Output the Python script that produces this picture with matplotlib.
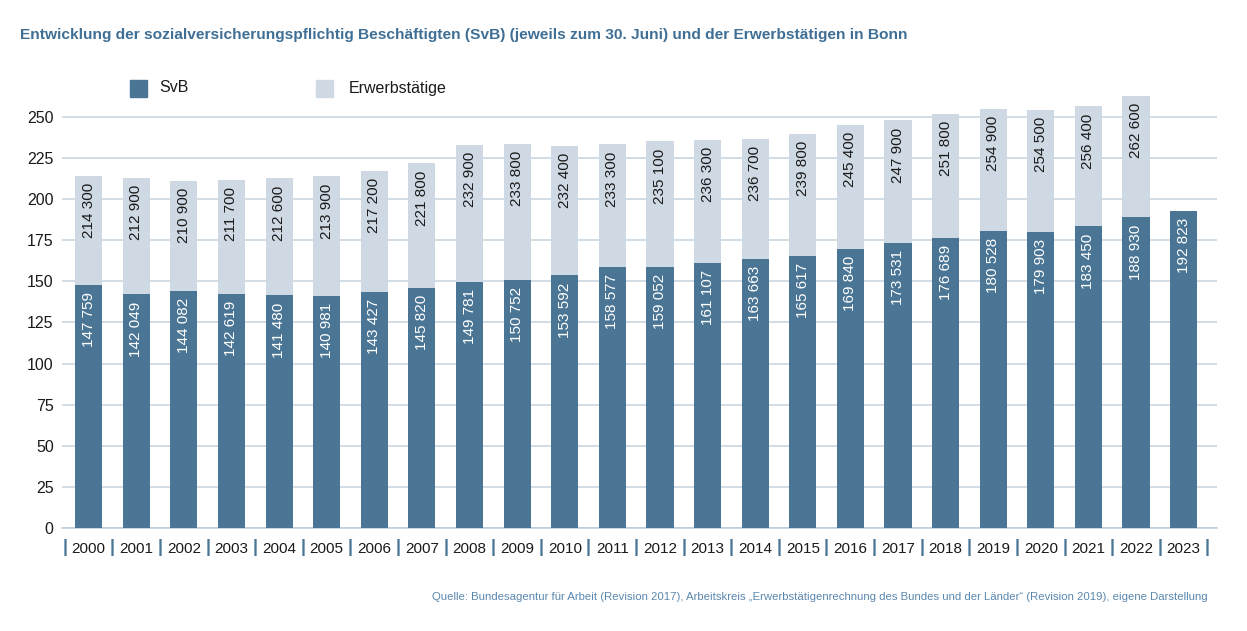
import matplotlib
matplotlib.use("Agg")
import matplotlib.pyplot as plt
from matplotlib.patches import Rectangle

years = [str(y) for y in range(2000, 2024)]
svb = [147759, 142049, 144082, 142619, 141480, 140981, 143427, 145820, 149781,
       150752, 153592, 158577, 159052, 161107, 163663, 165617, 169840, 173531,
       176689, 180528, 179903, 183450, 188930, 192823]
erwerb = [214300, 212900, 210900, 211700, 212600, 213900, 217200, 221800, 232900,
          233800, 232400, 233300, 235100, 236300, 236700, 239800, 245400, 247900,
          251800, 254900, 254500, 256400, 262600, None]
yticks = list(range(0, 251, 25))

title = ("Entwicklung der sozialversicherungspflichtig Beschäftigten (SvB) "
         "(jeweils zum 30. Juni) und der Erwerbstätigen in Bonn")
source = ("Quelle: Bundesagentur für Arbeit (Revision 2017), Arbeitskreis "
          "„Erwerbstätigenrechnung des Bundes und der Länder“ (Revision 2019), "
          "eigene Darstellung")

DARK = "#4a7594"
LIGHT = "#cfd9e4"
GRID = "#c5d3df"
TITLE_C = "#3f6f95"
SRC_C = "#5a87ae"

plt.rcParams["font.family"] = ["Liberation Sans", "DejaVu Sans"]

fig = plt.figure(figsize=(12.47, 6.31), dpi=100)
ax = fig.add_axes([62 / 1247, 1 - 528 / 631, (1217 - 62) / 1247, (528 - 92) / 631])

x = list(range(len(years)))
w = 0.57
ax.set_xlim(-0.56, 23.7)
ax.set_ylim(0, 265.2)

for i in x:
    if erwerb[i] is not None:
        ax.bar(i, erwerb[i] / 1000, width=w, color=LIGHT, zorder=2)
        ax.annotate(f"{erwerb[i]:,}".replace(",", " "), (i, erwerb[i] / 1000),
                    xytext=(0, -5), textcoords="offset points", rotation=90,
                    ha="center", va="top", fontsize=11, color="#1a1a1a", zorder=4)
    ax.bar(i, svb[i] / 1000, width=w, color=DARK, zorder=3)
    ax.annotate(f"{svb[i]:,}".replace(",", " "), (i, svb[i] / 1000),
                xytext=(0, -5), textcoords="offset points", rotation=90,
                ha="center", va="top", fontsize=11, color="white", zorder=4)

ax.set_yticks(yticks)
ax.set_yticklabels([str(t) for t in yticks])
ax.yaxis.grid(True, color=GRID, linewidth=1.1, zorder=0)
ax.set_axisbelow(True)
ax.tick_params(axis="y", length=0, pad=6, labelsize=11.5, labelcolor="#1a1a1a")

ax.set_xticks(x)
ax.set_xticklabels(years)
ax.tick_params(axis="x", length=0, pad=10, labelsize=11, labelcolor="#1a1a1a")
ax.set_xticks([i - 0.5 for i in range(len(years) + 1)], minor=True)
ax.set_xticklabels(["|"] * (len(years) + 1), minor=True)
ax.tick_params(axis="x", which="minor", length=0, pad=8, labelsize=13,
               labelcolor=DARK)
for lab in ax.get_xticklabels(minor=True):
    lab.set_fontweight("bold")

for s in ["top", "right", "left"]:
    ax.spines[s].set_visible(False)
ax.spines["bottom"].set_color("#b9cddc")
ax.spines["bottom"].set_linewidth(1.1)

t_title = fig.text(20 / 1247, 1 - 35 / 631, title, fontsize=12.5, fontweight="bold",
                   color=TITLE_C, va="center", ha="left")

# legend
fig.patches.append(Rectangle((130 / 1247, 1 - 97 / 631), 17 / 1247, 17 / 631,
                             transform=fig.transFigure, color=DARK))
fig.text(159 / 1247, 1 - 88 / 631, "SvB", fontsize=11.5, va="center",
         color="#1a1a1a")
fig.patches.append(Rectangle((316 / 1247, 1 - 97 / 631), 17 / 1247, 17 / 631,
                             transform=fig.transFigure, color=LIGHT))
fig.text(349 / 1247, 1 - 88 / 631, "Erwerbstätige", fontsize=11.5, va="center",
         color="#1a1a1a")

t_src = fig.text(1208 / 1247, 1 - 597 / 631, source, fontsize=9.5, color=SRC_C,
                 ha="right", va="center")

# fit text widths to the reference
renderer = fig.canvas.get_renderer()
for t, target in [(t_title, 885), (t_src, 784)]:
    for _ in range(3):
        wpx = t.get_window_extent(renderer).width
        t.set_fontsize(t.get_fontsize() * target / wpx)

fig.savefig("out.png", dpi=100, facecolor="white")
